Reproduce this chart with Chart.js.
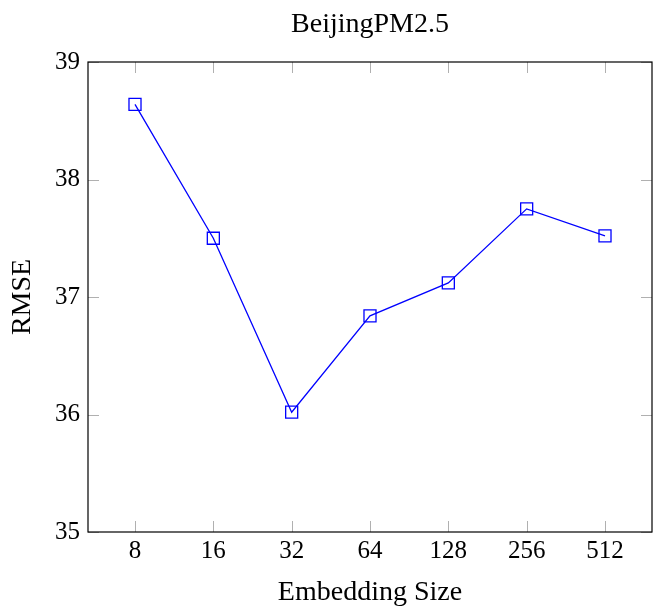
<!DOCTYPE html>
<html lang="en">
<head>
  <meta charset="UTF-8" />
  <title>BeijingPM2.5</title>
  <script src="https://cdn.jsdelivr.net/npm/chart.js"></script>
  <style>
    body { margin: 0; background: #fff; }
    .chart-container { position: relative; width: 653px; height: 606px; }
  </style>
</head>
<body>
  <div class="chart-container">
    <canvas id="rmseChart" width="653" height="606"></canvas>
  </div>
  <script>
    // Data
    const embeddingSizes = ['8', '16', '32', '64', '128', '256', '512'];
    const rmseValues = [38.64, 37.50, 36.02, 36.84, 37.12, 37.75, 37.52];
    const yTicks = [35, 36, 37, 38, 39];

    const serif = "'Liberation Serif', 'DejaVu Serif', serif";

    // Chart.js keeps a margin on the right for the x labels; the reference
    // frame runs to the canvas edge, so stretch the plot area back out.
    const stretchPlugin = {
      id: 'stretch',
      afterLayout(chart) {
        const a = chart.chartArea;
        a.right = chart.width - 1;
        a.width = a.right - a.left;
        const x = chart.scales.x;
        x.right = a.right;
        x.width = a.width;
        x.configure();
        if (chart.titleBlock) {
          chart.titleBlock.left = a.left;
          chart.titleBlock.right = a.right;
          chart.titleBlock.width = a.width;
        }
      }
    };

    // pgfplots-style frame with inward ticks on all four sides
    const framePlugin = {
      id: 'frame',
      afterDraw(chart) {
        const { ctx, chartArea: a, scales } = chart;
        const len = 11;
        ctx.save();
        ctx.strokeStyle = '#b0b0b0';
        ctx.lineWidth = 1;
        ctx.beginPath();
        embeddingSizes.forEach((_, i) => {
          const x = Math.round(scales.x.getPixelForValue(i)) + 0.5;
          ctx.moveTo(x, a.bottom); ctx.lineTo(x, a.bottom - len);
          ctx.moveTo(x, a.top); ctx.lineTo(x, a.top + len);
        });
        yTicks.forEach(v => {
          const y = Math.round(scales.y.getPixelForValue(v)) + 0.5;
          ctx.moveTo(a.left, y); ctx.lineTo(a.left + len, y);
          ctx.moveTo(a.right, y); ctx.lineTo(a.right - len, y);
        });
        ctx.stroke();
        ctx.strokeStyle = '#000';
        ctx.lineWidth = 1.2;
        ctx.strokeRect(a.left, a.top, a.right - a.left, a.bottom - a.top);
        ctx.restore();
      }
    };

    new Chart(document.getElementById('rmseChart'), {
      type: 'line',
      data: {
        datasets: [{
          data: rmseValues.map((v, i) => ({ x: i, y: v })),
          borderColor: '#0000ff',
          borderWidth: 1.3,
          pointStyle: 'rect',
          pointRadius: 8.5,
          pointBorderWidth: 1.3,
          pointBorderColor: '#0000ff',
          pointBackgroundColor: 'rgba(0,0,0,0)',
          tension: 0
        }]
      },
      options: {
        responsive: false,
        maintainAspectRatio: false,
        animation: false,
        layout: { padding: 0 },
        plugins: {
          legend: { display: false },
          tooltip: { enabled: false },
          title: {
            display: true,
            text: 'BeijingPM2.5',
            color: '#000',
            font: { family: serif, size: 28, weight: 'normal' },
            padding: { top: 8, bottom: 20.4 }
          }
        },
        scales: {
          x: {
            type: 'linear',
            min: -0.6,
            max: 6.6,
            afterFit(scale) { scale.height = 74; },
            afterBuildTicks(scale) { scale.ticks = embeddingSizes.map((_, i) => ({ value: i })); },
            grid: { display: false, drawTicks: false },
            border: { display: false },
            ticks: {
              color: '#000',
              padding: 4,
              maxRotation: 0,
              autoSkip: false,
              font: { family: serif, size: 25 },
              callback: v => embeddingSizes[v]
            },
            title: {
              display: true,
              text: 'Embedding Size',
              color: '#000',
              font: { family: serif, size: 28 },
              padding: { top: 0, bottom: -3 }
            }
          },
          y: {
            min: 35,
            max: 39,
            afterFit(scale) { scale.width = 88; },
            afterBuildTicks(scale) { scale.ticks = yTicks.map(v => ({ value: v })); },
            grid: { display: false, drawTicks: false },
            border: { display: false },
            ticks: {
              color: '#000',
              padding: 8,
              autoSkip: false,
              font: { family: serif, size: 25 }
            },
            title: {
              display: true,
              text: 'RMSE',
              color: '#000',
              font: { family: serif, size: 28 },
              padding: { top: 6, bottom: 0 }
            }
          }
        }
      },
      plugins: [stretchPlugin, framePlugin]
    });
  </script>
</body>
</html>
